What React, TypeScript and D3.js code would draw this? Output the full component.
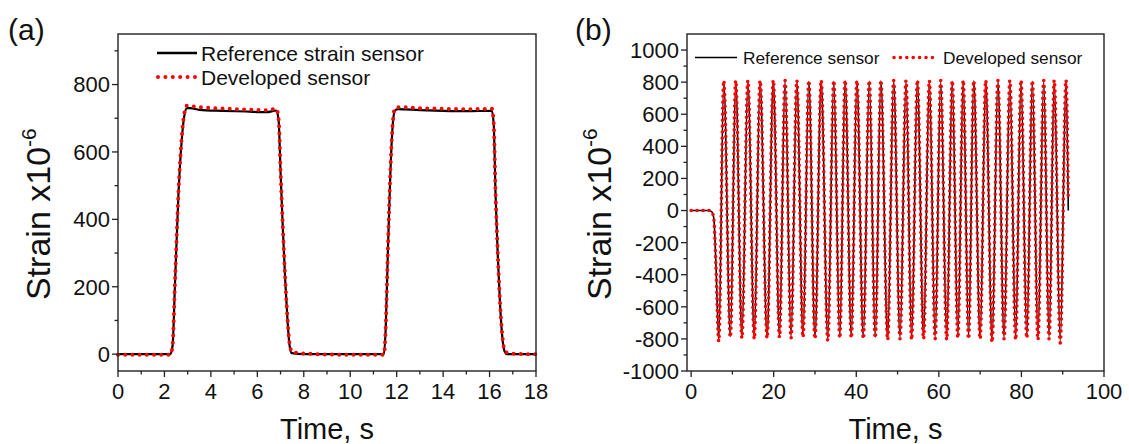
import React from "react";
import * as d3 from "d3";

// ---------- Panel (a) data ----------
const aRefTime = [0, 1, 2.25, 2.35, 2.45, 2.6, 2.75, 2.85, 2.97, 3.1, 3.5, 4.5, 5.5, 6.4, 6.82, 6.92, 7.0, 7.1, 7.2, 7.3, 7.38, 7.48, 8, 10, 11.45, 11.53, 11.62, 11.72, 11.82, 11.92, 12.05, 13, 14, 15, 16.1, 16.18, 16.26, 16.35, 16.45, 16.55, 16.65, 16.75, 17.5, 18];
const aRefVal = [0, 0, 0, 25, 200, 470, 640, 705, 730, 730, 725, 722, 720, 718, 723, 690, 540, 370, 220, 100, 30, 3, 0, 0, 0, 80, 300, 520, 670, 722, 727, 724, 722, 721, 722, 680, 470, 300, 150, 50, 8, 0, 0, 0];

const aDevTime = [0, 1, 2.25, 2.35, 2.45, 2.6, 2.75, 2.85, 2.97, 3.1, 3.5, 4.5, 5.5, 6.4, 6.82, 6.92, 7.0, 7.1, 7.2, 7.3, 7.38, 7.5, 8, 10, 11.45, 11.53, 11.62, 11.72, 11.82, 11.92, 12.1, 13, 14, 15, 16.1, 16.18, 16.26, 16.35, 16.45, 16.55, 16.65, 16.8, 17.5, 18];
const aDevVal = [-2, -2, -2, 25, 205, 475, 648, 712, 737, 736, 733, 729, 726, 724, 728, 695, 545, 375, 225, 105, 35, 6, 2, -2, -2, 82, 305, 525, 675, 728, 733, 730, 728, 727, 728, 685, 475, 305, 155, 55, 12, 3, 0, 0];

const aXTicks = [0, 2, 4, 6, 8, 10, 12, 14, 16, 18];
const aXMinor = [1, 3, 5, 7, 9, 11, 13, 15, 17];
const aYTicks = [0, 200, 400, 600, 800];
const aYMinor = [100, 300, 500, 700, 900];

// ---------- Panel (b) data ----------
const bTime = [0, 2, 4.4, 5.0, 5.5, 6.0, 6.7, 7.9, 9.5, 10.8, 12.3, 13.75, 15.3, 16.7, 18.4, 19.9, 21.4, 22.75, 24.2, 25.6, 27.1, 28.5, 30.0, 31.5, 33.1, 34.55, 36.0, 37.3, 38.8, 40.15, 41.7, 43.15, 44.6, 45.95, 47.6, 49.05, 50.6, 52.05, 53.4, 54.8, 56.3, 57.7, 59.1, 60.45, 61.9, 63.25, 64.6, 65.9, 67.2, 68.45, 70.0, 71.35, 72.9, 74.3, 75.8, 77.2, 78.6, 79.9, 81.3, 82.65, 84.0, 85.4, 86.7, 87.95, 89.4, 90.8, 91.35];
const bRef = [0, 0, 0, -8, -50, -330, -805, 805, -785, 805, -785, 805, -790, 805, -790, 808, -785, 808, -790, 805, -785, 805, -790, 808, -800, 805, -790, 808, -785, 808, -790, 805, -790, 808, -800, 805, -790, 805, -795, 808, -790, 808, -790, 805, -795, 805, -785, 808, -790, 808, -795, 805, -810, 805, -790, 805, -790, 808, -785, 805, -790, 805, -790, 808, -815, 808, 0];
const bDev = [0, 0, 0, -8, -52, -335, -815, 810, -790, 810, -795, 810, -800, 810, -795, 812, -790, 810, -795, 810, -790, 810, -800, 812, -810, 810, -795, 812, -795, 810, -800, 810, -795, 812, -805, 810, -800, 810, -805, 812, -800, 810, -800, 810, -805, 810, -795, 812, -800, 810, -800, 810, -820, 810, -800, 810, -805, 812, -795, 810, -805, 810, -800, 812, -825, 812, 60];

const bXTicks = [0, 20, 40, 60, 80, 100];
const bXMinor = [10, 30, 50, 70, 90];
const bYTicks = [-1000, -800, -600, -400, -200, 0, 200, 400, 600, 800, 1000];
const bYMinor = [-900, -700, -500, -300, -100, 100, 300, 500, 700, 900];

const FONT = "'Liberation Sans', Arial, Helvetica, sans-serif";

type PanelProps = {
  x: d3.ScaleLinear<number, number>;
  y: d3.ScaleLinear<number, number>;
  xTicks: number[];
  xMinor: number[];
  yTicks: number[];
  yMinor: number[];
  refT: number[];
  refV: number[];
  devT: number[];
  devV: number[];
  lineW: number;
  dotGap: number;
  dotW: number;
  curve: d3.CurveFactory;
  titleX: number;
  label: string;
  labelX: number;
};

function Panel(p: PanelProps) {
  const [x0, x1] = p.x.range();
  const [y0] = p.y.range();
  const y1 = p.y.range()[1];
  const refPath = d3
    .line<number>()
    .x((_, i) => p.x(p.refT[i]))
    .y((v) => p.y(v))
    .curve(p.curve)(p.refV) as string;
  const devPath = d3
    .line<number>()
    .x((_, i) => p.x(p.devT[i]))
    .y((v) => p.y(v))
    .curve(p.curve)(p.devV) as string;
  const midX = (x0 + x1) / 2;
  return (
    <g>
      <text x={p.labelX} y={40} fontSize={30} fontFamily={FONT} fill="#111">
        {p.label}
      </text>
      <path d={refPath} fill="none" stroke="#000" strokeWidth={p.lineW} strokeLinejoin="round" />
      <path
        d={devPath}
        fill="none"
        stroke="#ff0000"
        strokeWidth={p.dotW}
        strokeLinecap="round"
        strokeDasharray={`0 ${p.dotGap}`}
      />
      <rect x={x0} y={y1} width={x1 - x0} height={y0 - y1} fill="none" stroke="#222" strokeWidth={1.4} />
      {p.xTicks.map((t) => (
        <g key={"xt" + t}>
          <line x1={p.x(t)} x2={p.x(t)} y1={y0} y2={y0 + 6} stroke="#222" strokeWidth={1.3} />
          <text x={p.x(t)} y={y0 + 28} textAnchor="middle" fontSize={22} fontFamily={FONT} fill="#111">
            {t}
          </text>
        </g>
      ))}
      {p.xMinor.map((t) => (
        <line key={"xm" + t} x1={p.x(t)} x2={p.x(t)} y1={y0} y2={y0 + 3.5} stroke="#222" strokeWidth={1.3} />
      ))}
      {p.yTicks.map((t) => (
        <g key={"yt" + t}>
          <line x1={x0 - 6} x2={x0} y1={p.y(t)} y2={p.y(t)} stroke="#222" strokeWidth={1.3} />
          <text x={x0 - 8} y={p.y(t)} dy="0.36em" textAnchor="end" fontSize={22} fontFamily={FONT} fill="#111">
            {t}
          </text>
        </g>
      ))}
      {p.yMinor.map((t) => (
        <line key={"ym" + t} x1={x0 - 3.5} x2={x0} y1={p.y(t)} y2={p.y(t)} stroke="#222" strokeWidth={1.3} />
      ))}
      <text x={midX} y={439} textAnchor="middle" fontSize={29} fontFamily={FONT} fill="#111">
        Time, s
      </text>
      <text
        transform={`translate(${p.titleX},${300}) rotate(-90)`}
        textAnchor="start"
        fontSize={34}
        fontFamily={FONT}
        fill="#111"
      >
        Strain x10
        <tspan fontSize={21} dy={-14}>
          -6
        </tspan>
      </text>
    </g>
  );
}

export default function App() {
  const xA = d3.scaleLinear().domain([0, 18]).range([118, 536]);
  const yA = d3.scaleLinear().domain([-50, 950]).range([371, 34]);
  const xB = d3.scaleLinear().domain([-1, 100]).range([687, 1104]);
  const yB = d3.scaleLinear().domain([-1000, 1100]).range([371, 34]);
  return (
    <svg
      width={1129}
      height={444}
      style={{ position: "absolute", left: 0, top: 0, background: "#fff" }}
    >
      <rect width={1129} height={444} fill="#fff" />
      <Panel
        x={xA}
        y={yA}
        xTicks={aXTicks}
        xMinor={aXMinor}
        yTicks={aYTicks}
        yMinor={aYMinor}
        refT={aRefTime}
        refV={aRefVal}
        devT={aDevTime}
        devV={aDevVal}
        lineW={2.2}
        dotGap={7.2}
        dotW={4}
        curve={d3.curveMonotoneX}
        titleX={50}
        label="(a)"
        labelX={8}
      />
      <Panel
        x={xB}
        y={yB}
        xTicks={bXTicks}
        xMinor={bXMinor}
        yTicks={bYTicks}
        yMinor={bYMinor}
        refT={bTime}
        refV={bRef}
        devT={bTime}
        devV={bDev}
        lineW={1.6}
        dotGap={6}
        dotW={3.6}
        curve={d3.curveMonotoneX}
        titleX={611}
        label="(b)"
        labelX={575}
      />
      {/* Legend (a) */}
      <g fontFamily={FONT} fill="#111">
        <line x1={157} x2={197} y1={53} y2={53} stroke="#000" strokeWidth={2.4} />
        <text x={201} y={53} dy="0.36em" fontSize={21}>
          Reference strain sensor
        </text>
        <line x1={158} x2={196} y1={77} y2={77} stroke="#ff0000" strokeWidth={4} strokeLinecap="round" strokeDasharray="0 7.4" />
        <text x={201} y={77} dy="0.36em" fontSize={21}>
          Developed sensor
        </text>
      </g>
      {/* Legend (b) */}
      <g fontFamily={FONT} fill="#111">
        <line x1={695} x2={737} y1={57.5} y2={57.5} stroke="#000" strokeWidth={1.6} />
        <text x={743} y={57.5} dy="0.36em" fontSize={17.3}>
          Reference sensor
        </text>
        <line x1={894} x2={933} y1={57.5} y2={57.5} stroke="#ff0000" strokeWidth={3.6} strokeLinecap="round" strokeDasharray="0 6.4" />
        <text x={943} y={57.5} dy="0.36em" fontSize={17.3}>
          Developed sensor
        </text>
      </g>
    </svg>
  );
}
